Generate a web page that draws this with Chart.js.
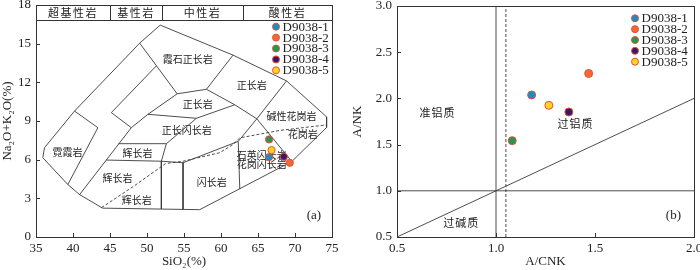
<!DOCTYPE html>
<html>
<head>
<meta charset="utf-8">
<script src="https://cdn.jsdelivr.net/npm/chart.js@4.4.0/dist/chart.umd.min.js"></script>
<style>
body { margin: 0; background: #fff; }
#wrap { width: 700px; height: 270px; position: relative; }
canvas { position: absolute; top: 0; }
</style>
</head>
<body>
<div id="wrap">
<canvas id="tas" width="350" height="270" style="left:0"></canvas>
<canvas id="acnk" width="350" height="270" style="left:350px"></canvas>
</div>
<script>
// samples
var sampleNames = ['D9038-1', 'D9038-2', 'D9038-3', 'D9038-4', 'D9038-5'];
var sampleColors = ['#1b8bcb', '#f2683a', '#1f9a55', '#3a166a', '#ffd226'];
var sio2 = [66.46, 69.3, 66.5, 68.49, 66.83];
var alkali = [6.19, 5.76, 7.57, 6.23, 6.74];
var acnk = [1.18, 1.468, 1.082, 1.368, 1.267];
var ank = [2.037, 2.27, 1.543, 1.853, 1.925];

// TAS field boundaries [SiO2, Na2O+K2O]
var tasOutline = [[51.78,16.44],[61.63,14.11],[68.86,12.11],[74.27,9.32],[74.27,8.5],[69.57,5.86],[57.12,2.12],[44.0,2.24],[40.89,3.29],[39.3,4.07],[35.92,6.15],[36.15,6.93],[40.21,9.77],[49.01,15.04],[51.78,16.44]];
var tasLine1 = [[49.01,15.04],[54.08,11.11],[58.03,11.46],[61.63,14.11]];
var tasLine2 = [[58.03,11.46],[61.86,10.26],[64.84,9.17],[69.57,5.86]];
var tasLine3 = [[68.86,12.11],[64.84,9.17],[62.33,7.42],[62.54,3.72]];
var tasLine4 = [[54.08,11.11],[50.13,9.52],[47.88,8.48],[40.89,3.29]];
var tasLine5 = [[50.13,9.52],[56.68,9.21],[61.86,10.26]];
var tasLine6 = [[46.14,7.24],[52.62,7.24],[51.94,5.88],[44.5,5.97]];
var tasLine7 = [[52.62,7.24],[56.68,9.21]];
var tasLine8 = [[51.94,5.88],[51.94,2.17]];
var tasLine9 = [[51.94,5.88],[54.87,5.76],[62.33,7.42]];
var tasLine10 = [[54.87,5.76],[54.87,2.14]];
var tasLine11 = [[51.27,13.28],[45.18,9.65],[47.88,8.48]];
var tasLine12 = [[40.21,9.77],[43.36,8.48],[39.3,4.07]];
var tasDashed = [[43.86,2.28],[48.33,3.99],[52.52,5.7],[54.87,5.88],[59.83,6.54],[61.63,7.18],[62.53,7.69],[67.95,8.27],[74.27,8.7]];

var tasFieldNames = ['霞石正长岩', '正长岩', '正长岩', '正长闪长岩', '碱性花岗岩', '花岗岩', '石英闪长岩', '花岗闪长岩', '闪长岩', '辉长岩', '辉长岩', '辉长岩', '霓霞岩'];
var tasFieldSiO2 = [55.5, 64.16, 56.85, 55.37, 69.53, 71.06, 65.51, 65.51, 58.75, 48.73, 46.03, 48.6, 39.26];
var tasFieldAlk = [13.8, 11.77, 10.3, 8.27, 9.39, 7.96, 6.37, 5.63, 4.25, 6.54, 4.59, 2.82, 6.58];

// header band
var groupNames = ['超基性岩', '基性岩', '中性岩', '酸性岩'];
var groupEdges = [35, 45, 52, 63, 75];
var bandBottom = 16.83;

// A/NK - A/CNK lines
var acnkVertical = [[1, 0.5], [1, 3]];
var acnkDashed = [[1.05, 0.5], [1.05, 3]];
var acnkHorizontal = [[0.5, 1], [2, 1]];
var acnkDiagonal = [[0.5, 0.5], [2, 2]];
var acnkFieldNames = ['准铝质', '过铝质', '过碱质'];
var acnkFieldX = [0.705, 1.402, 0.824];
var acnkFieldY = [1.84, 1.72, 0.65];

var serif = "'Liberation Serif','Times New Roman',serif";
var cjk = "'Noto Sans CJK SC','Noto Sans CJK JP',sans-serif";
Chart.defaults.font.family = serif;
Chart.defaults.color = '#222';

function pts(arr) {
    return arr.map(function(p) { return { x: p[0], y: p[1] }; });
}

function lineSet(arr, dashed) {
    return {
        data: pts(arr),
        showLine: true,
        borderColor: '#3a3a3a',
        borderWidth: 0.9,
        borderDash: dashed ? [3, 2] : [],
        pointRadius: 0,
        fill: false,
        order: 2
    };
}

function sampleSets(xs, ys, r) {
    return sampleNames.map(function(n, i) {
        return {
            label: n,
            data: [{ x: xs[i], y: ys[i] }],
            backgroundColor: sampleColors[i],
            borderColor: '#e8502c',
            borderWidth: 1,
            pointRadius: r,
            order: 1
        };
    });
}

function drawFrame(chart) {
    var ctx = chart.ctx, a = chart.chartArea;
    var sx = chart.scales.x, sy = chart.scales.y;
    ctx.save();
    ctx.strokeStyle = '#333';
    ctx.lineWidth = 1;
    ctx.strokeRect(Math.round(a.left) + 0.5, Math.round(a.top) + 0.5, Math.round(a.right - a.left), Math.round(a.bottom - a.top));
    ctx.beginPath();
    sx.ticks.forEach(function(t) {
        var px = Math.round(sx.getPixelForValue(t.value)) + 0.5;
        ctx.moveTo(px, a.bottom);
        ctx.lineTo(px, a.bottom - 4);
    });
    sy.ticks.forEach(function(t) {
        var py = Math.round(sy.getPixelForValue(t.value)) + 0.5;
        ctx.moveTo(a.left, py);
        ctx.lineTo(a.left + 4, py);
    });
    ctx.stroke();
    ctx.restore();
}

function drawLegend(chart, cx, cy0, step) {
    var ctx = chart.ctx;
    ctx.save();
    ctx.font = '13px ' + serif;
    ctx.textBaseline = 'middle';
    ctx.textAlign = 'left';
    sampleNames.forEach(function(n, i) {
        var cy = cy0 + i * step;
        ctx.beginPath();
        ctx.arc(cx, cy, 3.5, 0, Math.PI * 2);
        ctx.fillStyle = sampleColors[i];
        ctx.fill();
        ctx.strokeStyle = '#e8502c';
        ctx.lineWidth = 1;
        ctx.stroke();
        ctx.fillStyle = '#222';
        ctx.fillText(n, cx + 6.5, cy + 0.5);
    });
    ctx.restore();
}

function fixAxis(w, h) {
    return {
        y: function(s) { s.width = w; s.paddingTop = 0; s.paddingBottom = 0; },
        x: function(s) { s.height = h; s.paddingLeft = 0; s.paddingRight = 0; }
    };
}

var tasFix = fixAxis(36, 33);
var tasPlugin = {
    id: 'tasDecor',
    beforeDatasetsDraw: function(chart) {
        var ctx = chart.ctx, sx = chart.scales.x, sy = chart.scales.y;
        ctx.save();
        // header band
        ctx.strokeStyle = '#333';
        ctx.lineWidth = 1;
        ctx.beginPath();
        var yb = Math.round(sy.getPixelForValue(bandBottom)) + 0.5;
        ctx.moveTo(sx.getPixelForValue(35), yb);
        ctx.lineTo(sx.getPixelForValue(75), yb);
        for (var k = 1; k < groupEdges.length - 1; k++) {
            var xp = Math.round(sx.getPixelForValue(groupEdges[k])) + 0.5;
            ctx.moveTo(xp, yb);
            ctx.lineTo(xp, sy.getPixelForValue(18));
        }
        ctx.stroke();
        ctx.fillStyle = '#222';
        ctx.textAlign = 'center';
        ctx.textBaseline = 'middle';
        ctx.font = '11px ' + cjk;
        ctx.letterSpacing = '1.5px';
        var ym = sy.getPixelForValue((bandBottom + 18) / 2);
        groupNames.forEach(function(n, i) {
            ctx.fillText(n, sx.getPixelForValue((groupEdges[i] + groupEdges[i + 1]) / 2), ym);
        });
        ctx.letterSpacing = '0px';
        ctx.font = '10px ' + cjk;
        tasFieldNames.forEach(function(n, i) {
            ctx.fillText(n, sx.getPixelForValue(tasFieldSiO2[i]), sy.getPixelForValue(tasFieldAlk[i]));
        });
        ctx.font = '13px ' + serif;
        ctx.fillText('(a)', sx.getPixelForValue(72.55), sy.getPixelForValue(1.66));
        ctx.restore();
    },
    afterDraw: function(chart) {
        drawFrame(chart);
        drawLegend(chart, 276, 26.7, 10.9);
    }
};

var acnkFix = fixAxis(47, 33);
var acnkPlugin = {
    id: 'acnkDecor',
    beforeDatasetsDraw: function(chart) {
        var ctx = chart.ctx, sx = chart.scales.x, sy = chart.scales.y;
        ctx.save();
        ctx.fillStyle = '#222';
        ctx.textAlign = 'center';
        ctx.textBaseline = 'middle';
        ctx.font = '11px ' + cjk;
        ctx.letterSpacing = '1px';
        acnkFieldNames.forEach(function(n, i) {
            ctx.fillText(n, sx.getPixelForValue(acnkFieldX[i]), sy.getPixelForValue(acnkFieldY[i]));
        });
        ctx.letterSpacing = '0px';
        ctx.font = '13px ' + serif;
        ctx.fillText('(b)', sx.getPixelForValue(1.896), sy.getPixelForValue(0.73));
        ctx.restore();
    },
    afterDraw: function(chart) {
        drawFrame(chart);
        drawLegend(chart, 285, 18.3, 10.85);
    }
};

function axisOpts(min, max, step, title, fit, isX) {
    return {
        type: 'linear',
        min: min,
        max: max,
        grid: { display: false, drawTicks: false },
        border: { display: false },
        ticks: {
            stepSize: step,
            padding: isX ? 4 : 5,
            font: { size: 13, family: serif },
            color: '#222',
            maxRotation: 0,
            callback: function(v) { return step < 1 ? v.toFixed(1) : v; }
        },
        title: {
            display: true,
            text: title,
            font: { size: 13, family: serif },
            color: '#222',
            padding: { top: 0, bottom: 1 }
        },
        afterFit: fit
    };
}

var tasDatasets = [
    lineSet(tasOutline), lineSet(tasLine1), lineSet(tasLine2), lineSet(tasLine3),
    lineSet(tasLine4), lineSet(tasLine5), lineSet(tasLine6), lineSet(tasLine7),
    lineSet(tasLine8), lineSet(tasLine9), lineSet(tasLine10), lineSet(tasLine11),
    lineSet(tasLine12), lineSet(tasDashed, true)
].concat(sampleSets(sio2, alkali, 3.6));

new Chart(document.getElementById('tas'), {
    type: 'scatter',
    data: { datasets: tasDatasets },
    options: {
        responsive: false,
        animation: false,
        devicePixelRatio: 1,
        layout: { padding: { left: 0, right: 18, top: 5, bottom: 0 } },
        plugins: { legend: { display: false }, tooltip: { enabled: false } },
        scales: {
            x: axisOpts(35, 75, 5, 'SiO₂(%)', tasFix.x, true),
            y: axisOpts(0, 18, 3, 'Na₂O+K₂O(%)', tasFix.y, false)
        }
    },
    plugins: [tasPlugin]
});

var acnkDatasets = [
    lineSet(acnkVertical), lineSet(acnkDashed, true), lineSet(acnkHorizontal), lineSet(acnkDiagonal)
].concat(sampleSets(acnk, ank, 4));

new Chart(document.getElementById('acnk'), {
    type: 'scatter',
    data: { datasets: acnkDatasets },
    options: {
        responsive: false,
        animation: false,
        devicePixelRatio: 1,
        layout: { padding: { left: 0, right: 6, top: 6, bottom: 0 } },
        plugins: { legend: { display: false }, tooltip: { enabled: false } },
        scales: {
            x: axisOpts(0.5, 2.0, 0.5, 'A/CNK', acnkFix.x, true),
            y: axisOpts(0.5, 3.0, 0.5, 'A/NK', acnkFix.y, false)
        }
    },
    plugins: [acnkPlugin]
});
</script>
</body>
</html>
